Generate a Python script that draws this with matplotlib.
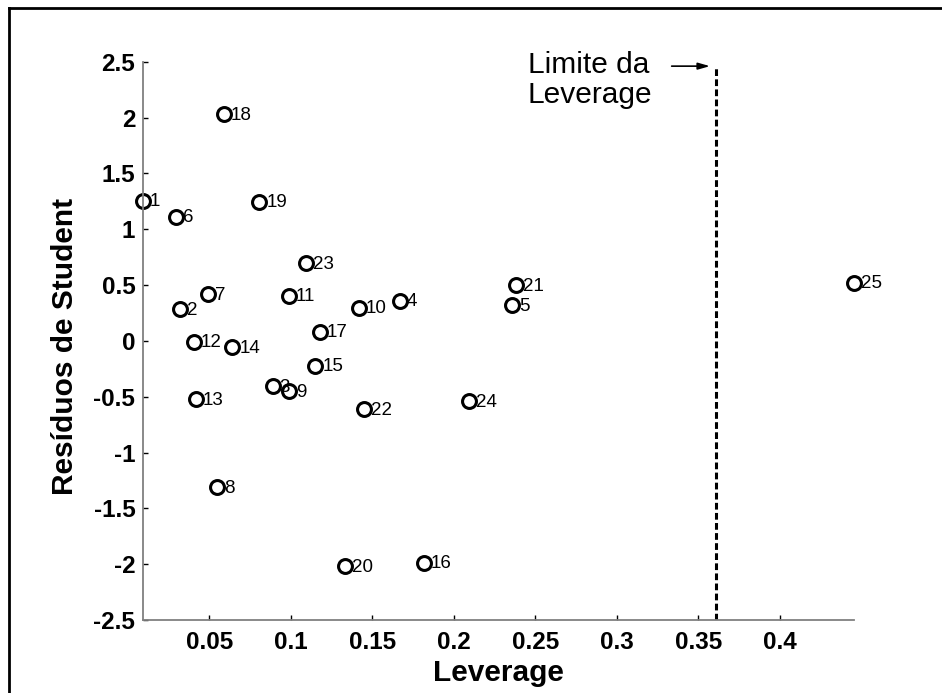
#!/usr/bin/env python3
"""Studentized residuals vs. leverage, with the leverage cut-off marked."""

import matplotlib

matplotlib.use("Agg")
import matplotlib.pyplot as plt
from matplotlib.lines import Line2D
from matplotlib.ticker import FormatStrFormatter
import numpy as np

plt.rcParams["font.family"] = ["Liberation Sans", "DejaVu Sans"]
plt.rcParams["axes.unicode_minus"] = False

# observation number, leverage (h_ii) and studentized residual
obs_ids = list(range(1, 26))
leverage = np.array([
    0.0093, 0.0322, 0.0889, 0.1667, 0.2359, 0.0297, 0.0492, 0.0549, 0.0991,
    0.1417, 0.0987, 0.0406, 0.0418, 0.0641, 0.1151, 0.1816, 0.1177, 0.0588,
    0.0807, 0.1335, 0.2383, 0.1447, 0.1094, 0.2092, 0.4456,
])
student_res = np.array([
    1.256, 0.284, -0.403, 0.361, 0.322, 1.113, 0.421, -1.313, -0.448,
    0.298, 0.406, -0.006, -0.522, -0.057, -0.221, -1.985, 0.083, 2.030,
    1.247, -2.014, 0.501, -0.612, 0.696, -0.537, 0.522,
])

lev_limit = 0.361
limit_top = 2.44

x_ticks = [0.05, 0.1, 0.15, 0.2, 0.25, 0.3, 0.35, 0.4]
y_ticks = [-2.5, -2, -1.5, -1, -0.5, 0, 0.5, 1, 1.5, 2, 2.5]

fig = plt.figure(figsize=(9.42, 6.93), dpi=100)
ax = fig.add_axes([0.1518, 0.1053, 0.7548, 0.8057])

ax.plot(leverage, student_res, "o", ms=10, mfc="none", mec="black", mew=2.2,
        clip_on=False)
for oid, x, y in zip(obs_ids, leverage, student_res):
    ax.annotate(str(oid), (x, y), xytext=(5.0, -1.0), textcoords="offset points",
                ha="left", va="center", fontsize=13.5)

# leverage cut-off
ax.plot([lev_limit, lev_limit], [-2.5, limit_top], color="black", lw=2.2,
        linestyle=(0, (2.2, 1.1)))
ax.annotate("", xy=(0.3572, 2.46), xytext=(0.3337, 2.46),
            arrowprops=dict(arrowstyle="-|>,head_length=0.7,head_width=0.2",
                            color="black", lw=1.2, shrinkA=0, shrinkB=0))
ax.text(0.2453, 2.60, "Limite da\nLeverage", ha="left", va="top",
        fontsize=21.5, linespacing=1.1)

ax.set_xlim(leverage.min(), leverage.max())
ax.set_ylim(-2.5, 2.5)
ax.set_xticks(x_ticks)
ax.set_yticks(y_ticks)
ax.xaxis.set_major_formatter(FormatStrFormatter("%g"))
ax.yaxis.set_major_formatter(FormatStrFormatter("%g"))

for side in ("top", "right"):
    ax.spines[side].set_visible(False)
for side in ("left", "bottom"):
    ax.spines[side].set_color("#808080")
    ax.spines[side].set_linewidth(1.3)

ax.tick_params(axis="both", direction="in", length=3.5, width=1.0, color="black",
               labelsize=17.5)
ax.tick_params(axis="x", pad=8)
ax.tick_params(axis="y", pad=5.5)
for lbl in ax.get_xticklabels() + ax.get_yticklabels():
    lbl.set_fontweight("bold")

ax.set_xlabel("Leverage", fontsize=21.5, fontweight="bold", va="center")
ax.set_ylabel("Resíduos de Student", fontsize=21.5, fontweight="bold", va="center")
ax.xaxis.set_label_coords(0.5, -0.095)
ax.yaxis.set_label_coords(-0.11, 0.49)

# frame around the figure (only the top and left edges fall inside the image)
W, H = 942.0, 693.0
fx, fy = 9.0 / W, 1 - 7.5 / H
fig.add_artist(Line2D([fx, fx], [0, fy], transform=fig.transFigure,
                      color="black", lw=2.0))
fig.add_artist(Line2D([fx, 1], [fy, fy], transform=fig.transFigure,
                      color="black", lw=2.0))

fig.savefig("out.png", dpi=100, facecolor="white")
